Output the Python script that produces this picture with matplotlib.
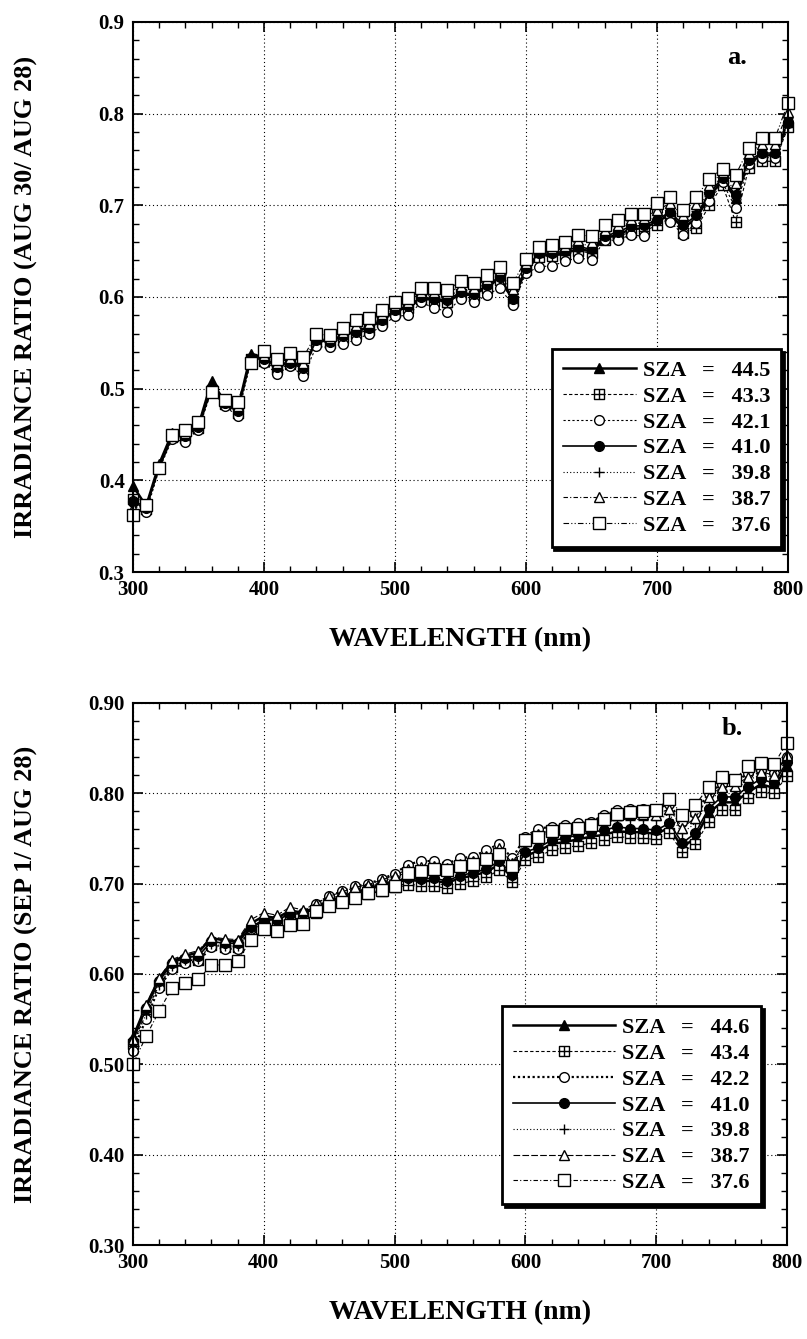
import matplotlib
matplotlib.use('Agg')
from matplotlib import pyplot
from matplotlib.path import Path
from matplotlib.ticker import MultipleLocator, FormatStrFormatter

pyplot.rcParams['font.family'] = ['Liberation Serif', 'DejaVu Serif']
pyplot.rcParams['font.weight'] = 'bold'
pyplot.rcParams['axes.labelweight'] = 'bold'

## wavelengths (nm)
wl = [300, 310, 320, 330, 340, 350, 360, 370, 380, 390,
      400, 410, 420, 430, 440, 450, 460, 470, 480, 490,
      500, 510, 520, 530, 540, 550, 560, 570, 580, 590,
      600, 610, 620, 630, 640, 650, 660, 670, 680, 690,
      700, 710, 720, 730, 740, 750, 760, 770, 780, 790, 800]

## panel a: AUG 30 / AUG 28
sza_a = ['44.5', '43.3', '42.1', '41.0', '39.8', '38.7', '37.6']
a_445 = [0.394, 0.372, 0.418, 0.452, 0.450, 0.460, 0.508, 0.486, 0.478, 0.538,
         0.534, 0.524, 0.530, 0.524, 0.552, 0.552, 0.558, 0.563, 0.567, 0.574,
         0.585, 0.589, 0.598, 0.597, 0.595, 0.603, 0.602, 0.611, 0.620, 0.597,
         0.630, 0.645, 0.646, 0.648, 0.652, 0.650, 0.664, 0.668, 0.674, 0.675,
         0.682, 0.690, 0.675, 0.686, 0.710, 0.727, 0.708, 0.747, 0.754, 0.755, 0.788]
a_433 = [0.380, 0.369, 0.413, 0.447, 0.446, 0.457, 0.499, 0.483, 0.474, 0.532,
         0.530, 0.521, 0.527, 0.520, 0.551, 0.550, 0.555, 0.560, 0.564, 0.573,
         0.584, 0.588, 0.598, 0.596, 0.594, 0.603, 0.601, 0.610, 0.619, 0.596,
         0.629, 0.644, 0.645, 0.646, 0.650, 0.648, 0.662, 0.666, 0.671, 0.672,
         0.678, 0.686, 0.670, 0.675, 0.700, 0.722, 0.682, 0.741, 0.748, 0.748, 0.785]
a_421 = [0.378, 0.365, 0.412, 0.445, 0.442, 0.455, 0.498, 0.481, 0.470, 0.530,
         0.528, 0.516, 0.525, 0.514, 0.546, 0.545, 0.549, 0.553, 0.560, 0.568,
         0.579, 0.580, 0.594, 0.588, 0.584, 0.598, 0.594, 0.602, 0.610, 0.591,
         0.626, 0.633, 0.634, 0.639, 0.643, 0.640, 0.662, 0.662, 0.668, 0.666,
         0.694, 0.682, 0.668, 0.681, 0.705, 0.725, 0.697, 0.745, 0.752, 0.752, 0.790]
a_410 = [0.376, 0.370, 0.414, 0.448, 0.448, 0.458, 0.500, 0.484, 0.476, 0.533,
         0.532, 0.524, 0.528, 0.522, 0.553, 0.551, 0.557, 0.562, 0.566, 0.575,
         0.586, 0.590, 0.600, 0.598, 0.597, 0.605, 0.603, 0.613, 0.622, 0.598,
         0.632, 0.648, 0.648, 0.650, 0.655, 0.652, 0.666, 0.671, 0.677, 0.678,
         0.684, 0.693, 0.678, 0.689, 0.713, 0.730, 0.711, 0.749, 0.757, 0.757, 0.791]
a_398 = [0.374, 0.371, 0.415, 0.449, 0.450, 0.459, 0.501, 0.485, 0.478, 0.533,
         0.534, 0.525, 0.530, 0.524, 0.555, 0.553, 0.559, 0.565, 0.569, 0.577,
         0.588, 0.592, 0.602, 0.601, 0.600, 0.608, 0.606, 0.616, 0.625, 0.603,
         0.634, 0.649, 0.650, 0.653, 0.658, 0.656, 0.669, 0.674, 0.680, 0.681,
         0.689, 0.697, 0.683, 0.694, 0.717, 0.732, 0.716, 0.752, 0.761, 0.761, 0.795]
a_387 = [0.370, 0.372, 0.416, 0.450, 0.452, 0.461, 0.499, 0.486, 0.481, 0.531,
         0.537, 0.528, 0.533, 0.528, 0.557, 0.555, 0.562, 0.569, 0.572, 0.581,
         0.591, 0.595, 0.605, 0.605, 0.604, 0.612, 0.610, 0.620, 0.629, 0.609,
         0.637, 0.652, 0.653, 0.656, 0.662, 0.660, 0.673, 0.678, 0.685, 0.686,
         0.695, 0.702, 0.689, 0.701, 0.722, 0.736, 0.724, 0.757, 0.767, 0.767, 0.802]
a_376 = [0.362, 0.373, 0.414, 0.449, 0.455, 0.464, 0.496, 0.488, 0.486, 0.528,
         0.541, 0.532, 0.539, 0.534, 0.560, 0.558, 0.566, 0.575, 0.577, 0.586,
         0.595, 0.599, 0.610, 0.610, 0.608, 0.617, 0.615, 0.624, 0.633, 0.615,
         0.641, 0.655, 0.657, 0.660, 0.668, 0.666, 0.678, 0.684, 0.690, 0.690,
         0.703, 0.709, 0.695, 0.709, 0.729, 0.740, 0.733, 0.762, 0.773, 0.773, 0.812]

## panel b: SEP 1 / AUG 28
sza_b = ['44.6', '43.4', '42.2', '41.0', '39.8', '38.7', '37.6']
b_446 = [0.530, 0.565, 0.595, 0.614, 0.620, 0.624, 0.640, 0.637, 0.636, 0.656,
         0.664, 0.662, 0.670, 0.668, 0.674, 0.681, 0.686, 0.690, 0.694, 0.698,
         0.702, 0.704, 0.703, 0.703, 0.701, 0.706, 0.709, 0.713, 0.721, 0.707,
         0.731, 0.736, 0.744, 0.746, 0.749, 0.752, 0.754, 0.758, 0.757, 0.757,
         0.755, 0.762, 0.740, 0.751, 0.778, 0.790, 0.790, 0.801, 0.810, 0.806, 0.830]
b_434 = [0.522, 0.558, 0.588, 0.608, 0.614, 0.616, 0.632, 0.630, 0.630, 0.648,
         0.656, 0.656, 0.661, 0.662, 0.668, 0.675, 0.680, 0.684, 0.688, 0.692,
         0.696, 0.698, 0.697, 0.697, 0.695, 0.700, 0.703, 0.707, 0.715, 0.702,
         0.726, 0.730, 0.737, 0.740, 0.742, 0.745, 0.748, 0.752, 0.751, 0.750,
         0.749, 0.756, 0.735, 0.744, 0.768, 0.781, 0.782, 0.795, 0.802, 0.800, 0.819]
b_422 = [0.515, 0.550, 0.585, 0.606, 0.612, 0.614, 0.630, 0.628, 0.628, 0.650,
         0.660, 0.661, 0.668, 0.668, 0.678, 0.686, 0.692, 0.697, 0.700, 0.705,
         0.711, 0.721, 0.725, 0.725, 0.722, 0.728, 0.730, 0.737, 0.744, 0.728,
         0.752, 0.761, 0.763, 0.765, 0.767, 0.768, 0.776, 0.781, 0.783, 0.783,
         0.783, 0.788, 0.768, 0.778, 0.800, 0.810, 0.812, 0.822, 0.826, 0.823, 0.840]
b_410 = [0.526, 0.562, 0.592, 0.612, 0.618, 0.620, 0.636, 0.634, 0.634, 0.652,
         0.660, 0.660, 0.666, 0.667, 0.672, 0.680, 0.686, 0.691, 0.695, 0.700,
         0.703, 0.706, 0.705, 0.706, 0.703, 0.709, 0.712, 0.716, 0.725, 0.710,
         0.735, 0.740, 0.748, 0.750, 0.754, 0.757, 0.759, 0.763, 0.761, 0.761,
         0.759, 0.767, 0.745, 0.756, 0.783, 0.796, 0.796, 0.807, 0.816, 0.811, 0.835]
b_398 = [0.520, 0.556, 0.588, 0.609, 0.615, 0.617, 0.633, 0.631, 0.631, 0.651,
         0.660, 0.660, 0.667, 0.668, 0.675, 0.683, 0.689, 0.694, 0.697, 0.702,
         0.707, 0.713, 0.714, 0.715, 0.712, 0.718, 0.721, 0.726, 0.734, 0.719,
         0.743, 0.750, 0.755, 0.757, 0.760, 0.762, 0.767, 0.771, 0.771, 0.771,
         0.770, 0.777, 0.756, 0.767, 0.791, 0.803, 0.804, 0.814, 0.821, 0.817, 0.838]
b_387 = [0.528, 0.566, 0.596, 0.616, 0.622, 0.626, 0.641, 0.639, 0.638, 0.660,
         0.668, 0.665, 0.674, 0.671, 0.678, 0.686, 0.691, 0.696, 0.699, 0.704,
         0.709, 0.716, 0.718, 0.719, 0.717, 0.722, 0.725, 0.731, 0.739, 0.723,
         0.747, 0.755, 0.759, 0.761, 0.763, 0.765, 0.771, 0.776, 0.777, 0.777,
         0.776, 0.783, 0.762, 0.773, 0.796, 0.807, 0.808, 0.818, 0.824, 0.820, 0.842]
b_376 = [0.500, 0.531, 0.559, 0.585, 0.590, 0.594, 0.610, 0.610, 0.614, 0.638,
         0.650, 0.648, 0.654, 0.655, 0.670, 0.675, 0.680, 0.684, 0.690, 0.693,
         0.697, 0.712, 0.714, 0.716, 0.715, 0.720, 0.722, 0.727, 0.733, 0.720,
         0.748, 0.752, 0.758, 0.760, 0.762, 0.765, 0.772, 0.777, 0.779, 0.780,
         0.782, 0.794, 0.776, 0.787, 0.807, 0.818, 0.815, 0.830, 0.834, 0.832, 0.856]

# square with a cross inside
sqplus = Path([(-1, -1), (1, -1), (1, 1), (-1, 1), (-1, -1), (0, -1), (0, 1), (-1, 0), (1, 0)],
              [Path.MOVETO, Path.LINETO, Path.LINETO, Path.LINETO, Path.CLOSEPOLY,
               Path.MOVETO, Path.LINETO, Path.MOVETO, Path.LINETO])

# (marker, facecolor, linestyle, linewidth, markersize)
styles_a = [('^', 'k', '-', 1.8, 7),
            (sqplus, 'w', (0, (3, 2)), 0.8, 7),
            ('o', 'w', (0, (2, 2)), 0.8, 7),
            ('o', 'k', '-', 1.2, 7),
            ('+', 'k', (0, (1, 2)), 0.8, 7),
            ('^', 'w', (0, (4, 2, 1, 2)), 0.8, 7),
            ('s', 'w', (0, (5, 2, 1, 2, 1, 2)), 0.8, 8)]
styles_b = [('^', 'k', '-', 1.8, 7),
            (sqplus, 'w', (0, (3, 2)), 0.8, 7),
            ('o', 'w', (0, (1, 1.2)), 1.6, 7),
            ('o', 'k', '-', 1.2, 7),
            ('+', 'k', (0, (1, 2)), 0.8, 7),
            ('^', 'w', (0, (6, 2)), 0.8, 7),
            ('s', 'w', (0, (4, 2, 1, 2)), 0.8, 8)]


def draw_panel(ax, series, names, styles, ylabel, tag, fmt, legend_anchor, tagxy, hlen):
    for ys, name, st in zip(series, names, styles):
        mk, fc, ls, lw, ms = st
        ax.plot(wl, ys, color='k', linestyle=ls, linewidth=lw, marker=mk,
                markerfacecolor=fc, markeredgecolor='k', markeredgewidth=1.0,
                markersize=ms, clip_on=False, label='SZA   =   ' + name)
    ax.set_xlim(300, 800)
    ax.set_ylim(0.3, 0.9)
    ax.xaxis.set_major_locator(MultipleLocator(100))
    ax.xaxis.set_minor_locator(MultipleLocator(20))
    ax.yaxis.set_major_locator(MultipleLocator(0.1))
    ax.yaxis.set_minor_locator(MultipleLocator(0.02))
    ax.yaxis.set_major_formatter(FormatStrFormatter(fmt))
    ax.tick_params(which='both', direction='in', top=True, right=True, labelsize=15)
    ax.tick_params(which='major', length=7, width=1.2, pad=6)
    ax.tick_params(which='minor', length=4, width=1.0)
    for sp in ax.spines.values():
        sp.set_linewidth(1.5)
    ax.grid(True, which='major', linestyle=(0, (1, 2.5)), color='k', linewidth=0.8)
    ax.set_xlabel('WAVELENGTH (nm)', fontsize=20, labelpad=19)
    ax.set_ylabel(ylabel, fontsize=19)
    ax.yaxis.set_label_coords(-0.145, 0.5)
    ax.text(tagxy[0], tagxy[1], tag, transform=ax.transAxes, fontsize=19,
            ha='center', va='center')
    leg = ax.legend(loc='lower right', bbox_to_anchor=legend_anchor, numpoints=1,
                    handlelength=hlen, handletextpad=0.3, labelspacing=0.24,
                    borderpad=0.5, borderaxespad=0, fontsize=16, fancybox=False,
                    framealpha=1, shadow={'color': 'k', 'alpha': 1})
    leg.get_frame().set_edgecolor('k')
    leg.get_frame().set_linewidth(2.0)


if __name__ == "__main__":
    fig = pyplot.figure(figsize=(8.07, 13.39), dpi=100)
    ax1 = fig.add_axes([0.1648, 0.5728, 0.8117, 0.4108])
    ax2 = fig.add_axes([0.1648, 0.0702, 0.8104, 0.4048])

    draw_panel(ax1, [a_445, a_433, a_421, a_410, a_398, a_387, a_376], sza_a, styles_a,
               'IRRADIANCE RATIO (AUG 30/ AUG 28)', 'a.', '%.1f', (0.99, 0.045),
               (0.922, 0.936), 3.3)
    draw_panel(ax2, [b_446, b_434, b_422, b_410, b_398, b_387, b_376], sza_b, styles_b,
               'IRRADIANCE RATIO (SEP 1/ AUG 28)', 'b.', '%.2f', (0.96, 0.075),
               (0.916, 0.952), 4.6)

    pyplot.savefig('out.png', dpi=100)
    pyplot.close()
